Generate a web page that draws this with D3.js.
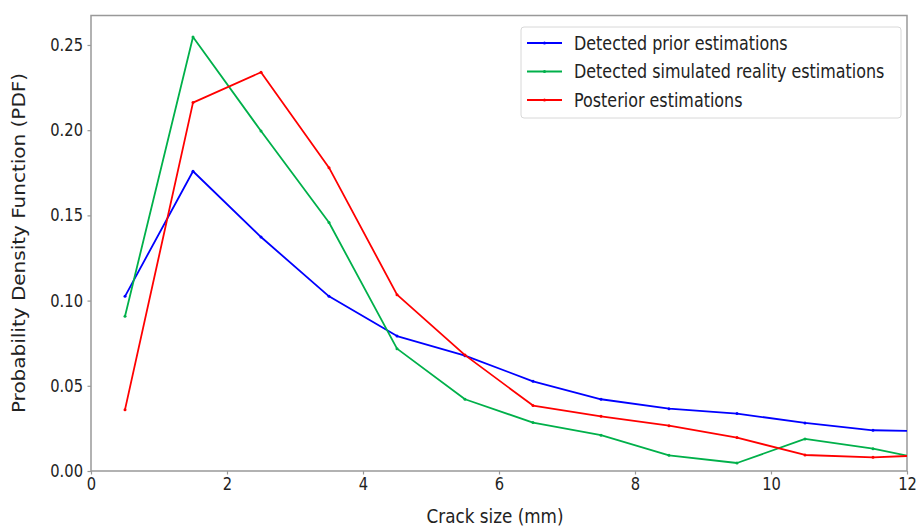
<!DOCTYPE html>
<html>
<head>
<meta charset="utf-8">
<script src="https://cdn.jsdelivr.net/npm/d3@7/dist/d3.min.js"></script>
<style>
  html, body { margin: 0; padding: 0; background: #fff; }
  svg { display: block; }
  text { font-family: "DejaVu Sans", sans-serif; fill: #222; }
</style>
</head>
<body>
<svg id="chart" width="916" height="526"></svg>
<script>
// Crack size bins (mm) and PDF estimates per bin
const crackSize = [0.5, 1.5, 2.5, 3.5, 4.5, 5.5, 6.5, 7.5, 8.5, 9.5, 10.5, 11.5, 12];
const priorPdf     = [0.1025, 0.1759, 0.1373, 0.1025, 0.0792, 0.0677, 0.0526, 0.0421, 0.0366, 0.0337, 0.0282, 0.0239, 0.0235];
const simulatedPdf = [0.0908, 0.2547, 0.1995, 0.1458, 0.0718, 0.0421, 0.0284, 0.0210, 0.0092, 0.0047, 0.0188, 0.0131, 0.0090];
const posteriorPdf = [0.0360, 0.2162, 0.2340, 0.1780, 0.1035, 0.0680, 0.0384, 0.0321, 0.0266, 0.0196, 0.0094, 0.0080, 0.0088];

const seriesNames  = ["Detected prior estimations", "Detected simulated reality estimations", "Posterior estimations"];
const seriesColors = ["#0000ff", "#00b04a", "#ff0000"];
const xTicks = [0, 2, 4, 6, 8, 10, 12];
const yTicks = [0, 0.05, 0.10, 0.15, 0.20, 0.25];

const series = [priorPdf, simulatedPdf, posteriorPdf].map((vals, i) => ({
  name: seriesNames[i],
  color: seriesColors[i],
  points: vals.map((v, j) => ({ x: crackSize[j], y: v }))
}));

const svg = d3.select("#chart");
const plot = { left: 91, right: 907, top: 15.5, bottom: 471 };
const squeeze = 0.84; // horizontal glyph compression

const x = d3.scaleLinear().domain([0, 12]).range([plot.left, plot.right]);
const y = d3.scaleLinear().domain([0, 0.2673]).range([plot.bottom, plot.top]);

// clip to plot area
svg.append("defs").append("clipPath").attr("id", "plotClip")
  .append("rect")
  .attr("x", plot.left).attr("y", plot.top)
  .attr("width", plot.right - plot.left).attr("height", plot.bottom - plot.top);

// squeeze tick labels horizontally around their anchor point
function squeezeLabels(sel) {
  sel.selectAll(".tick text").each(function () {
    const t = d3.select(this);
    const tx = +t.attr("x") || 0;
    t.attr("x", 0).attr("transform", `translate(${tx},0) scale(${squeeze},1)`);
  });
}

// axes
const xAxis = svg.append("g")
  .attr("transform", `translate(0,${plot.bottom})`)
  .call(d3.axisBottom(x).tickValues(xTicks).tickFormat(d3.format("d")).tickSize(3.5).tickPadding(3.5).tickSizeOuter(0));
const yAxis = svg.append("g")
  .attr("transform", `translate(${plot.left},0)`)
  .call(d3.axisLeft(y).tickValues(yTicks).tickFormat(d3.format(".2f")).tickSize(3.5).tickPadding(4.5).tickSizeOuter(0));

[xAxis, yAxis].forEach(ax => {
  ax.select(".domain").remove();
  ax.selectAll(".tick line").attr("stroke", "#999").attr("stroke-width", 1.2);
  ax.selectAll(".tick text").attr("font-size", 17.5).attr("fill", "#222")
    .attr("font-family", "DejaVu Sans, sans-serif");
  squeezeLabels(ax);
});

// frame
svg.append("rect")
  .attr("x", plot.left).attr("y", plot.top)
  .attr("width", plot.right - plot.left).attr("height", plot.bottom - plot.top)
  .attr("fill", "none").attr("stroke", "#999").attr("stroke-width", 1.5);

// series lines and point markers
const line = d3.line().x(d => x(d.x)).y(d => y(d.y));
const lines = svg.append("g").attr("clip-path", "url(#plotClip)");
series.forEach(s => {
  lines.append("path")
    .datum(s.points)
    .attr("d", line)
    .attr("fill", "none")
    .attr("stroke", s.color)
    .attr("stroke-width", 1.8)
    .attr("stroke-linejoin", "round");
  lines.selectAll(null)
    .data(s.points.slice(0, -1))
    .enter().append("circle")
    .attr("cx", d => x(d.x)).attr("cy", d => y(d.y))
    .attr("r", 1.5)
    .attr("fill", s.color);
});

// axis titles
svg.append("text")
  .attr("transform", `translate(495,523) scale(${squeeze},1)`)
  .attr("text-anchor", "middle")
  .attr("font-size", 20)
  .text("Crack size (mm)");
svg.append("text")
  .attr("transform", `translate(25,243) scale(${squeeze},1) rotate(-90)`)
  .attr("text-anchor", "middle")
  .attr("font-size", 20)
  .text("Probability Density Function (PDF)");

// legend
const legend = svg.append("g");
legend.append("rect")
  .attr("x", 521).attr("y", 27).attr("width", 380).attr("height", 91)
  .attr("rx", 3).attr("ry", 3)
  .attr("fill", "#fff").attr("fill-opacity", 0.85)
  .attr("stroke", "#d8d8d8").attr("stroke-width", 1);
const rowY = d3.scalePoint().domain(seriesNames).range([43, 100]);
series.forEach(s => {
  const ry = rowY(s.name);
  legend.append("line")
    .attr("x1", 527).attr("x2", 562).attr("y1", ry).attr("y2", ry)
    .attr("stroke", s.color).attr("stroke-width", 1.8);
  legend.append("circle").attr("cx", 544.5).attr("cy", ry).attr("r", 1.5).attr("fill", s.color);
  legend.append("text")
    .attr("transform", `translate(574,${ry}) scale(${squeeze},1)`)
    .attr("dy", "0.36em")
    .attr("font-size", 19)
    .text(s.name);
});
</script>
</body>
</html>
